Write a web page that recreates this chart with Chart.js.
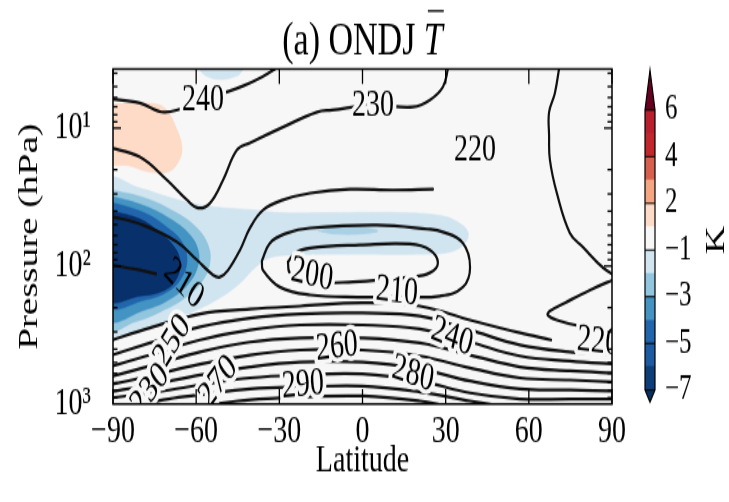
<!DOCTYPE html>
<html>
<head>
<meta charset="utf-8">
<script src="https://cdn.jsdelivr.net/npm/chart.js@4.4.1/dist/chart.umd.min.js"></script>
<style>
  html, body { margin: 0; padding: 0; background: #fff; }
  #wrap { position: relative; width: 729px; height: 502px; }
  #wrap canvas { position: absolute; left: 0; top: 0; }
</style>
</head>
<body>
<div id="wrap">
  <canvas id="field" width="729" height="360" style="width:729px;height:502px"></canvas>
  <canvas id="cbar" width="729" height="360" style="width:729px;height:502px"></canvas>
</div>
<script>
// canvas is drawn 360 px tall and stretched to 502 px on screen (tall serif look)
const H = 360;
const SY = 502 / H;
const FONT = 'Liberation Serif';
Chart.defaults.font.family = FONT;
Chart.defaults.color = '#000';

// ---- axes ----
const latTicks = [-90, -60, -30, 0, 30, 60, 90];
const presTicks = [10, 100, 1000];
const presTickLabels = ['10\u00b9', '10\u00b2', '10\u00b3'];
const presTop = 3.73;
const presBottom = 1000;

// ---- shaded anomaly (K), region outlines as latitude / hPa ----
const warm1Lat = [-92, -76.7, -71.2, -67.6, -65.1, -66.6, -70.2, -76.7, -83.9, -92, -92];
const warm1P   = [6.7, 6.6, 7.2, 9.5, 13.9, 17.9, 20.8, 20.8, 18.8, 17.0, 6.7];

const coolTopLat = [-59.5, -58, -55, -51.4, -47, -44, -43, -59.5];
const coolTopP   = [3.4, 3.95, 4.3, 4.45, 4.3, 4.0, 3.4, 3.4];

const cool1Lat = [-92, -76.7, -62.2, -51.4, -44.2, -38.8, -33.4, -22.5, -4.5, 20.7, 31.6, 37.0, 38.1, 34.4, 27.9, 13.5, -11.7, -29.8, -40.6, -53.2, -62.2, -71.2, -80.3, -92, -92];
const cool1P   = [355, 281, 219, 170, 133, 103, 87, 83, 82, 82, 79, 68, 57, 48, 43, 41, 41, 41, 39, 37.3, 34.9, 31.1, 27.2, 24.6, 355];

const cool2Lat = [-92, -78.5, -67.6, -59.7, -55.7, -55.0, -57.5, -64.0, -73.0, -82.1, -92, -92];
const cool2P   = [27.7, 32.1, 40.6, 53.0, 70.3, 93.5, 126, 170, 215, 254, 281, 27.7];

const streakLat = [-16.1, -9.9, -0.9, 5.6, -0.9, -9.9, -16.1];
const streakP   = [55.7, 52.1, 52.1, 55.7, 58.6, 58.6, 55.7];

const cool3Lat = [-92, -78.5, -68.7, -62.2, -59.3, -59.3, -62.2, -68.7, -78.5, -92, -92];
const cool3P   = [30.6, 36.7, 46.4, 59.6, 76.5, 98.2, 130, 170, 208, 234, 30.6];

const cool4Lat = [-92, -78.5, -70.2, -65.1, -63.3, -64.7, -69.4, -78.5, -92, -92];
const cool4P   = [33.8, 41.3, 53.0, 66.9, 87.4, 116, 149, 176, 188, 33.8];

const navyLat = [-92, -80.3, -73.0, -67.6, -65.8, -66.9, -71.2, -80.3, -92, -92];
const navyP   = [39.3, 45.6, 57.6, 74.0, 93.5, 122, 149, 165, 170, 39.3];

// ---- mean temperature contours (K) ----
const c240Lat = [-92, -80.3, -71.2, -57.5, -43.1, -36.3, -30.5];
const c240P   = [6.1, 6.58, 7.65, 6.26, 4.95, 4.27, 3.61];

const c230Lat = [-92, -80.3, -70.5, -63.3, -59.3, -55.0, -50.3, -45.3, -40.6, -28.7, -16.4, -11.0, 3.8, 18.2, 24.3, 29.0, 30.8, 31.2];
const c230P   = [13.7, 16.2, 23.8, 33.2, 37.9, 34.9, 23.8, 14.4, 12.8, 9.83, 7.65, 7.4, 6.8, 7.03, 6.26, 5.04, 3.73, 3.3];

const c220Lat = [-92, -79.2, -66.9, -59.7, -53.9, -51.4, -48.5, -44.2, -40.6, -35.9, -28.7, -18.9, -4.5, 11.0, 25.4];
const c220P   = [43, 50.4, 66.9, 90.4, 116, 120, 107, 76.5, 53.0, 39.3, 33.2, 29.6, 27.7, 28.1, 27.7];

const cRightLat = [71.2, 69.4, 67.3, 67.3, 67.6, 70.1, 74.8, 79.5, 86.8, 92];
const cRightP   = [3.4, 5.57, 7.65, 11.2, 17.0, 29.6, 57.6, 72.8, 103, 120];

const cRightLowLat = [92, 82.1, 73.0, 67.6, 66.8, 70.1, 78.4, 92];
const cRightLowP   = [122, 149, 185, 212, 226, 246, 272, 300];

const c210LeftLat = [-92, -80.3, -74.5];
const c210LeftP   = [97, 107, 114];

const c200Lat = [-26.9, -24.3, -18.9, -0.9, 17.1, 24.3, 27.2, 24.3, 17.1, -3.4, -18.9, -26.2, -26.9];
const c200P   = [93.5, 80.4, 74.0, 70.3, 69.2, 76.5, 95.0, 112, 120, 130, 130, 112, 93.5];

const c210Lat = [-36.3, -33.4, -27.2, -18.9, 5.2, 23.3, 29.0, 36.2, 38.8, 36.2, 27.9, 12.4, -1.8, -18.9, -29.8, -35.9, -36.3];
const c210P   = [92, 68.1, 57.6, 53.0, 50.4, 53.9, 56.6, 68.1, 102, 142, 165, 167, 168, 162, 142, 107, 92];

// lower (tropospheric) stack
const stackLat = [-92, -76.7, -58.6, -40.6, -22.5, 0, 20.7, 38.8, 56.8, 74.8, 92];
const s1Lat = [-92, -76.7, -58.6, -40.6, -22.5, 0, 20.7, 38.8, 56.8, 68.0];
const s1P   = [352, 281, 222, 205, 195, 185, 195, 246, 305, 343];
const s2P = [452, 361, 276, 238, 222, 219, 230, 291, 373, 419, 443];
const s3P = [542, 441, 343, 291, 267, 267, 286, 355, 448, 488, 515];
const s4P = [641, 530, 419, 355, 332, 332, 361, 441, 538, 575, 598];
const s5P = [731, 626, 513, 441, 406, 406, 448, 548, 647, 670, 694];
const s6P = [822, 727, 616, 538, 496, 496, 557, 681, 778, 791, 806];
const s7P = [908, 831, 727, 647, 616, 606, 681, 831, 919, 919, 921];
const s8Lat = [-83, -70, -58.6, -40.6, -22.5, 0, 20.7, 38.8, 50];
const s8P   = [1017, 919, 859, 778, 752, 740, 818, 950, 1035];
const s9Lat = [-58, -45, -30, -22.5, 0, 20.7, 30];
const s9P   = [1035, 950, 904, 889, 874, 950, 1035];

// inline contour labels
const labelText = ['240', '230', '220', '210', '200', '210', '250', '230', '270', '290', '260', '240', '280', '220'];
const labelLat  = [-57.5, 3.8, 40.6, -64.5, -18.2, 12.4, -68.7, -76.7, -52.1, -21.5, -9.2, 32.3, 18.2, 85.0];
const labelP    = [6.26, 6.8, 14.4, 135, 116, 154, 355, 791, 692, 728, 386, 327, 606, 355];
const labelRot  = [0, 0, 0, 38, 10, 5, -50, -45, -45, -4, -5, 18, 14, 5];
const labelHalo = [1, 1, 1, 0, 1, 1, 1, 1, 1, 1, 1, 1, 1, 1];

// ---- colour bar ----
const cbLevels = [-7, -6, -5, -4, -3, -2, -1, 1, 2, 3, 4, 5, 6];
const cbColors = ['#0e3e78', '#1c5ba2', '#2166ac', '#4393c3', '#92c5de', '#d1e5f0',
                  '#f7f7f7', '#fddbc7', '#f4a582', '#d6604d', '#c1272d', '#b8202f'];
const cbUnder = '#053061';
const cbOver = '#67001f';
const cbTickIdx = [0, 2, 4, 6, 8, 10, 12];
const cbTickLabels = ['\u22127', '\u22125', '\u22123', '\u22121', '2', '4', '6'];

const pts = (lat, p) => lat.map((v, i) => ({ x: v, y: p[i] }));

function shade(lat, p, color, order) {
  return {
    data: pts(lat, p), showLine: true, fill: 'shape',
    backgroundColor: color, borderColor: color, borderWidth: 0.5,
    pointRadius: 0, tension: 0.4, order, clip: 0
  };
}
function contour(lat, p) {
  return {
    data: pts(lat, p), showLine: true, fill: false,
    borderColor: '#111', borderWidth: 2.2, borderCapStyle: 'round',
    pointRadius: 0, tension: 0.4, order: 0, clip: 0
  };
}

const datasets = [
  shade(cool1Lat, cool1P, '#d1e5f0', 50),
  shade(coolTopLat, coolTopP, '#d1e5f0', 50),
  shade(warm1Lat, warm1P, '#fddbc7', 50),
  shade(cool2Lat, cool2P, '#92c5de', 40),
  shade(streakLat, streakP, '#a9d0e5', 40),
  shade(cool3Lat, cool3P, '#4393c3', 30),
  shade(cool4Lat, cool4P, '#2166ac', 20),
  shade(navyLat, navyP, '#08306b', 10),
  contour(c240Lat, c240P),
  contour(c230Lat, c230P),
  contour(c220Lat, c220P),
  contour(cRightLat, cRightP),
  contour(cRightLowLat, cRightLowP),
  contour(c210LeftLat, c210LeftP),
  contour(c200Lat, c200P),
  contour(c210Lat, c210P),
  contour(s1Lat, s1P),
  contour(stackLat, s2P),
  contour(stackLat, s3P),
  contour(stackLat, s4P),
  contour(stackLat, s5P),
  contour(stackLat, s6P),
  contour(stackLat, s7P),
  contour(s8Lat, s8P),
  contour(s9Lat, s9P)
];

function seg(ctx, x1, y1, x2, y2) {
  ctx.beginPath(); ctx.moveTo(x1, y1); ctx.lineTo(x2, y2); ctx.stroke();
}

const panel = {
  id: 'panel',
  beforeDatasetsDraw(chart) {
    const { ctx, chartArea: a } = chart;
    ctx.save();
    ctx.fillStyle = '#f7f7f7';
    ctx.fillRect(a.left, a.top, a.right - a.left, a.bottom - a.top);
    ctx.restore();
  },
  afterDatasetsDraw(chart) {
    const { ctx, chartArea: a, scales: { x, y } } = chart;
    // contour labels
    ctx.save();
    ctx.beginPath();
    ctx.rect(a.left, a.top, a.right - a.left, a.bottom - a.top);
    ctx.clip();
    ctx.font = `28px ${FONT}`;
    ctx.textAlign = 'center';
    ctx.textBaseline = 'middle';
    labelText.forEach((t, i) => {
      ctx.save();
      ctx.translate(x.getPixelForValue(labelLat[i]), y.getPixelForValue(labelP[i]));
      ctx.rotate(labelRot[i] * Math.PI / 180);
      if (labelHalo[i]) {
        ctx.strokeStyle = '#f7f7f7';
        ctx.lineWidth = 7;
        ctx.lineJoin = 'round';
        ctx.strokeText(t, 0, 0);
      }
      ctx.fillStyle = '#000';
      ctx.fillText(t, 0, 0);
      ctx.restore();
    });
    ctx.restore();

    // inward ticks and frame
    ctx.save();
    ctx.strokeStyle = '#000';
    ctx.lineWidth = 1.3;
    latTicks.forEach(v => {
      const px = x.getPixelForValue(v);
      seg(ctx, px, a.bottom, px, a.bottom - 15 / SY);
      seg(ctx, px, a.top, px, a.top + 15 / SY);
    });
    for (let d = 1; d <= 100; d *= 10) {
      for (let k = 1; k <= 9; k++) {
        const v = d * k;
        if (v < presTop || v > presBottom) continue;
        const py = y.getPixelForValue(v);
        const len = k === 1 ? 8 : 4.5;
        seg(ctx, a.left, py, a.left + len, py);
        seg(ctx, a.right, py, a.right - len, py);
      }
    }
    ctx.lineWidth = 1.5;
    ctx.strokeRect(a.left, a.top, a.right - a.left, a.bottom - a.top);
    ctx.restore();
  },
  afterDraw(chart) {
    const { ctx } = chart;
    ctx.save();
    ctx.fillStyle = '#000';
    ctx.textBaseline = 'alphabetic';
    ctx.font = `34px ${FONT}`;
    const t1 = '(a) ONDJ ';
    const w1 = ctx.measureText(t1).width;
    ctx.font = `italic 34px ${FONT}`;
    const w2 = ctx.measureText('T').width;
    const x0 = 362.5 - (w1 + w2) / 2;
    const base = 55 / SY;
    ctx.font = `34px ${FONT}`;
    ctx.fillText(t1, x0, base);
    ctx.font = `italic 34px ${FONT}`;
    ctx.fillText('T', x0 + w1, base);
    ctx.strokeStyle = '#000';
    ctx.lineWidth = 1.3;
    seg(ctx, x0 + w1 + 4, 11 / SY, x0 + w1 + w2 + 1, 11 / SY);
    ctx.restore();
  }
};

new Chart(document.getElementById('field'), {
  type: 'scatter',
  data: { datasets },
  options: {
    responsive: false,
    animation: false,
    events: [],
    layout: { padding: { top: 69 / SY, right: 117, left: 0, bottom: 0 } },
    plugins: { legend: { display: false }, tooltip: { enabled: false } },
    scales: {
      x: {
        type: 'linear', min: -90, max: 90,
        grid: { display: false, drawTicks: false },
        border: { display: false },
        afterBuildTicks: s => { s.ticks = latTicks.map(v => ({ value: v })); },
        afterFit: s => { s.height = H - 404 / SY; },
        ticks: {
          padding: 3, autoSkip: false, maxRotation: 0,
          font: { size: 28 }, color: '#000',
          callback: v => (v < 0 ? '\u2212' + (-v) : String(v))
        },
        title: {
          display: true, text: 'Latitude', color: '#000',
          font: { size: 28 }, padding: { top: 0, bottom: 12.5 }
        }
      },
      y: {
        type: 'logarithmic', reverse: true, min: presTop, max: presBottom,
        grid: { display: false, drawTicks: false },
        border: { display: false },
        afterBuildTicks: s => { s.ticks = presTicks.map(v => ({ value: v })); },
        afterFit: s => { s.width = 113; },
        ticks: {
          padding: 22, autoSkip: false,
          font: { size: 28 }, color: '#000',
          callback: v => presTickLabels[presTicks.indexOf(v)] ?? ''
        },
        title: {
          display: true, text: 'Pressure (hPa)', color: '#000',
          font: { size: 28 }, padding: { top: 13, bottom: 0 }
        }
      }
    }
  },
  plugins: [panel]
});

// ---- colour bar chart ----
const cbDecor = {
  id: 'cbDecor',
  afterDatasetsDraw(chart) {
    const { ctx, chartArea: a, scales: { y } } = chart;
    const top = y.getPixelForValue(cbLevels.length - 1);
    const bot = y.getPixelForValue(0);
    const mid = (a.left + a.right) / 2;
    const tipTop = 70 / SY;
    const tipBot = 402 / SY;
    ctx.save();
    ctx.fillStyle = cbOver;
    ctx.beginPath();
    ctx.moveTo(a.left, top); ctx.lineTo(mid, tipTop); ctx.lineTo(a.right, top);
    ctx.closePath(); ctx.fill();
    ctx.fillStyle = cbUnder;
    ctx.beginPath();
    ctx.moveTo(a.left, bot); ctx.lineTo(mid, tipBot); ctx.lineTo(a.right, bot);
    ctx.closePath(); ctx.fill();
    ctx.strokeStyle = '#000';
    ctx.lineWidth = 1;
    cbTickIdx.forEach(i => {
      const py = y.getPixelForValue(i);
      seg(ctx, a.left, py, a.right, py);
    });
    ctx.lineWidth = 1.2;
    ctx.beginPath();
    ctx.moveTo(a.left, top); ctx.lineTo(mid, tipTop); ctx.lineTo(a.right, top);
    ctx.lineTo(a.right, bot); ctx.lineTo(mid, tipBot); ctx.lineTo(a.left, bot);
    ctx.closePath(); ctx.stroke();
    // unit label
    ctx.translate(717, 240 / SY);
    ctx.rotate(-Math.PI / 2);
    ctx.font = `28px ${FONT}`;
    ctx.fillStyle = '#000';
    ctx.textAlign = 'center';
    ctx.textBaseline = 'middle';
    ctx.fillText('K', 0, 0);
    ctx.restore();
  }
};

new Chart(document.getElementById('cbar'), {
  type: 'bar',
  data: {
    labels: [''],
    datasets: cbColors.map((c, i) => ({
      label: cbLevels[i] + ' to ' + cbLevels[i + 1],
      data: [1],
      backgroundColor: c,
      borderWidth: 0,
      barPercentage: 1,
      categoryPercentage: 1
    }))
  },
  options: {
    responsive: false,
    animation: false,
    events: [],
    layout: { padding: { left: 645, right: 0, top: 110 / SY, bottom: H - 390 / SY } },
    plugins: { legend: { display: false }, tooltip: { enabled: false } },
    scales: {
      x: { stacked: true, display: false },
      y: {
        stacked: true, position: 'right', min: 0, max: cbLevels.length - 1,
        grid: { display: false, drawTicks: false },
        border: { display: false },
        afterBuildTicks: s => { s.ticks = cbTickIdx.map(v => ({ value: v })); },
        afterFit: s => { s.width = 729 - 655; },
        ticks: {
          padding: 10, autoSkip: false,
          font: { size: 25 }, color: '#000',
          callback: v => cbTickLabels[cbTickIdx.indexOf(v)] ?? ''
        }
      }
    }
  },
  plugins: [cbDecor]
});
</script>
</body>
</html>
